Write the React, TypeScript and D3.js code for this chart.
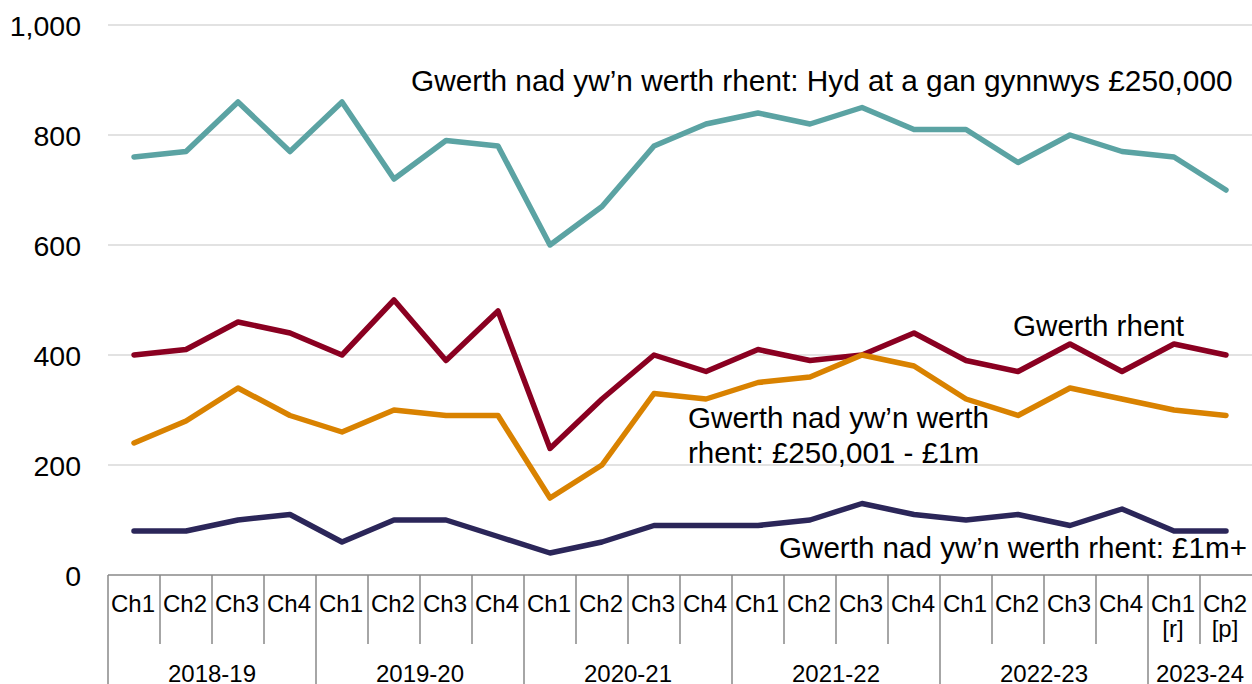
import React from "react";
import * as d3 from "d3";

const quarters = ["Ch1","Ch2","Ch3","Ch4","Ch1","Ch2","Ch3","Ch4","Ch1","Ch2","Ch3","Ch4","Ch1","Ch2","Ch3","Ch4","Ch1","Ch2","Ch3","Ch4","Ch1","Ch2"];
const quarterNotes = ["","","","","","","","","","","","","","","","","","","","","[r]","[p]"];
const years = ["2018-19","2019-20","2020-21","2021-22","2022-23","2023-24"];
const yearCounts = [4,4,4,4,4,2];
const yTicks = [0,200,400,600,800,1000];

const gwerthRhent = [400,410,460,440,400,500,390,480,230,320,400,370,410,390,400,440,390,370,420,370,420,400];
const hyd250k = [760,770,860,770,860,720,790,780,600,670,780,820,840,820,850,810,810,750,800,770,760,700];
const band250kTo1m = [240,280,340,290,260,300,290,290,140,200,330,320,350,360,400,380,320,290,340,320,300,290];
const over1m = [80,80,100,110,60,100,100,70,40,60,90,90,90,100,130,110,100,110,90,120,80,80];

const seriesList = [
  { name: "Gwerth rhent", values: gwerthRhent, color: "#8A0021" },
  { name: "Hyd", values: hyd250k, color: "#5BA3A3" },
  { name: "250k-1m", values: band250kTo1m, color: "#D98200" },
  { name: "1m+", values: over1m, color: "#2B2659" },
];

const W = 1252, H = 684;
const left = 108, right = 1252, top = 25, bottom = 575;
const font = "'Liberation Sans', Arial, Helvetica, sans-serif";

export default function App() {
  const x = d3.scaleBand<number>().domain(d3.range(quarters.length)).range([left, right]).padding(0);
  const y = d3.scaleLinear().domain([0, 1000]).range([bottom, top]);
  const cx = (i: number) => (x(i) as number) + x.bandwidth() / 2;
  const line = d3.line<number>().x((_, i) => cx(i)).y((v) => y(v));

  const yearStarts: number[] = [];
  let acc = 0;
  yearCounts.forEach((c) => { yearStarts.push(acc); acc += c; });

  return (
    <svg width={W} height={H} style={{ position: "absolute", left: 0, top: 0, background: "#fff" }} fontFamily={font}>
      {yTicks.filter((t) => t > 0).map((t) => (
        <line key={"g" + t} x1={left} x2={right} y1={y(t)} y2={y(t)} stroke="#d9d9d9" strokeWidth={1.5} />
      ))}
      {yTicks.map((t) => (
        <text key={"t" + t} x={81} y={y(t) + 11} textAnchor="end" fontSize={28.5} fill="#000">
          {d3.format(",")(t)}
        </text>
      ))}
      {/* x axis */}
      <line x1={left} x2={right} y1={bottom} y2={bottom} stroke="#898989" strokeWidth={1.5} />
      {quarters.map((q, i) => {
        const isYearStart = yearStarts.includes(i);
        const xl = x(i) as number;
        return (
          <g key={"q" + i}>
            <line x1={xl} x2={xl} y1={bottom} y2={isYearStart ? H : 644} stroke="#898989" strokeWidth={1.5} />
            <text x={cx(i) - 1} y={612} textAnchor="middle" fontSize={24}>{q}</text>
            {quarterNotes[i] && (
              <text x={cx(i) - 1} y={637} textAnchor="middle" fontSize={24}>{quarterNotes[i]}</text>
            )}
          </g>
        );
      })}
      {years.map((yr, k) => {
        const s = yearStarts[k];
        const e = s + yearCounts[k] - 1;
        const mid = ((x(s) as number) + (x(e) as number) + x.bandwidth()) / 2;
        return (
          <text key={"y" + yr} x={mid} y={682} textAnchor="middle" fontSize={24}>{yr}</text>
        );
      })}
      {seriesList.map((s) => (
        <path key={s.name} d={line(s.values) || ""} fill="none" stroke={s.color} strokeWidth={5.5}
          strokeLinejoin="round" strokeLinecap="round" />
      ))}
      <g fontSize={29.6} fill="#000">
        <text x={411} y={91} fontSize={29.8}>Gwerth nad yw’n werth rhent: Hyd at a gan gynnwys £250,000</text>
        <text x={1013} y={336}>Gwerth rhent</text>
        <text x={688} y={428}>Gwerth nad yw’n werth</text>
        <text x={688} y={463}>rhent: £250,001 - £1m</text>
        <text x={779} y={558}>Gwerth nad yw’n werth rhent: £1m+</text>
      </g>
    </svg>
  );
}
